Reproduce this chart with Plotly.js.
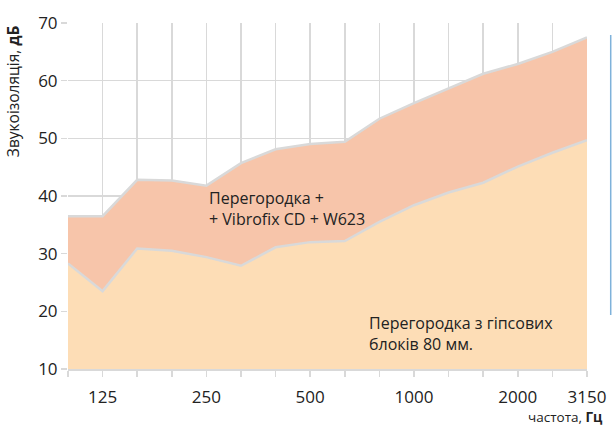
<!DOCTYPE html>
<html>
<head>
<meta charset="utf-8">
<script src="https://cdn.plot.ly/plotly-3.0.1.min.js"></script>
<style>html,body{margin:0;padding:0;background:#fff}#chart{width:612px;height:427px}</style>
</head>
<body>
<div id="chart"></div>
<script>
var freqs = ["100","125","160","200","250","315","400","500","630","800","1000","1250","1600","2000","2500","3150"];
var baseWall = [28.3,23.5,30.9,30.5,29.4,27.9,31.1,32.0,32.2,35.5,38.4,40.6,42.3,45.1,47.5,49.7];
var withVibrofix = [36.5,36.5,42.8,42.7,41.8,45.7,48.1,49.0,49.4,53.4,56.1,58.7,61.2,62.9,65.0,67.5];
var tickLabels = ["","125","","","250","","","500","","","1000","","","2000","","3150"];
var yTitle = "Звукоізоляція, <b>дБ</b>";
var xTitle = "частота, <b>Гц</b>";
var label1 = "Перегородка +<br>+ Vibrofix CD + W623";
var label2 = "Перегородка з гіпсових<br>блоків 80 мм.";

var font = "Open Sans, Liberation Sans, sans-serif";
var traces = [
  {x: freqs, y: baseWall, type: "scatter", mode: "lines", fill: "tozeroy",
   fillcolor: "#FDDDB6", line: {color: "#D9D9D9", width: 2.5}, hoverinfo: "skip"},
  {x: freqs, y: withVibrofix, type: "scatter", mode: "lines", fill: "tonexty",
   fillcolor: "#F7C5AA", line: {color: "#D9D9D9", width: 2.5}, hoverinfo: "skip"}
];
var layout = {
  width: 612, height: 427,
  margin: {l: 68, r: 25, t: 23, b: 58},
  paper_bgcolor: "#fff", plot_bgcolor: "#fff",
  showlegend: false,
  font: {family: font, color: "#222"},
  xaxis: {
    type: "category", range: [0, 15],
    tickmode: "array", tickvals: freqs, ticktext: tickLabels,
    showgrid: true, gridcolor: "#D9D9D9", gridwidth: 1.5,
    ticks: "outside", ticklen: 6, tickcolor: "#D9D9D9", tickwidth: 1.5,
    ticklabelstandoff: 6,
    showline: true, linecolor: "#D9D9D9", linewidth: 1.5,
    tickfont: {size: 17, family: font, color: "#222"}, zeroline: false
  },
  yaxis: {
    range: [10, 70], dtick: 10, tick0: 10,
    showgrid: true, gridcolor: "#D9D9D9", gridwidth: 1.5,
    ticks: "outside", ticklen: 6, tickcolor: "#D9D9D9", tickwidth: 1.5,
    showline: false, zeroline: false,
    tickfont: {size: 17, family: font, color: "#222"}
  },
  annotations: [
    {text: yTitle, xref: "paper", yref: "paper", x: -0.106, y: 0.803, textangle: -90,
     showarrow: false, xanchor: "center", yanchor: "middle", font: {size: 15.5, family: font, color: "#222"}},
    {text: xTitle, xref: "paper", yref: "paper", x: 0.958, y: -0.139,
     showarrow: false, xanchor: "center", yanchor: "middle", font: {size: 13.5, family: font, color: "#222"}},
    {text: label1, xref: "paper", yref: "paper", x: 0.268, y: 0.465, align: "left",
     showarrow: false, xanchor: "left", yanchor: "middle", font: {size: 16, family: font, color: "#222"}},
    {text: label2, xref: "paper", yref: "paper", x: 0.576, y: 0.104, align: "left",
     showarrow: false, xanchor: "left", yanchor: "middle", font: {size: 16, family: font, color: "#222"}}
  ],
  shapes: [
    {type: "line", xref: "paper", yref: "paper", x0: 1.0457, x1: 1.0457, y0: 0.156, y1: 0.965,
     line: {color: "#7FB2DA", width: 1.5}}
  ]
};
Plotly.newPlot("chart", traces, layout, {displayModeBar: false, staticPlot: true});
</script>
</body>
</html>
